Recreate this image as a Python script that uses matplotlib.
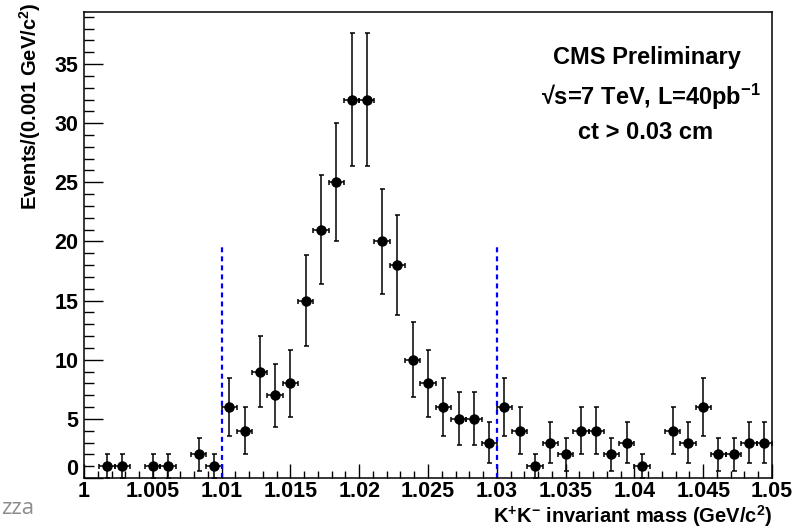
import numpy as np
import matplotlib
matplotlib.use("Agg")
import matplotlib.pyplot as plt
import matplotlib.transforms as mtransforms
from matplotlib.ticker import MultipleLocator

# K+K- invariant mass histogram, 45 bins between 1.00 and 1.05
mass_lo = 1.0
mass_hi = 1.05
n_bins = 45
counts = [0, 1, 1, 0, 1, 1, 0, 2, 1, 6,
          4, 9, 7, 8, 15, 21, 25, 32, 32, 20,
          18, 10, 8, 6, 5, 5, 3, 6, 4, 1,
          3, 2, 4, 4, 2, 3, 1, 0, 4, 3,
          6, 2, 2, 3, 3]

# signal window cuts
cut_lo = 1.01
cut_hi = 1.03
cut_top = 19.6

x_ticks = [1.0, 1.005, 1.01, 1.015, 1.02, 1.025, 1.03, 1.035, 1.04, 1.045, 1.05]
x_ticklabels = ['1', '1.005', '1.01', '1.015', '1.02', '1.025', '1.03',
                '1.035', '1.04', '1.045', '1.05']
y_ticks = [0, 5, 10, 15, 20, 25, 30, 35]

plt.rcParams['font.family'] = ['Liberation Sans', 'DejaVu Sans']
plt.rcParams['font.weight'] = 'bold'
plt.rcParams['axes.labelweight'] = 'bold'
plt.rcParams['mathtext.fontset'] = 'custom'
plt.rcParams['mathtext.rm'] = 'Liberation Sans:bold'
plt.rcParams['mathtext.bf'] = 'Liberation Sans:bold'
plt.rcParams['mathtext.default'] = 'bf'
plt.rcParams['lines.scale_dashes'] = False

edges = np.linspace(mass_lo, mass_hi, n_bins + 1)
centers = 0.5 * (edges[1:] + edges[:-1])
half_w = 0.5 * (edges[1] - edges[0])
counts = np.array(counts, dtype=float)
keep = counts > 0

fig = plt.figure(figsize=(8.08, 5.28), dpi=100)
ax = fig.add_axes([84/808, 50/528, 688/808, 466/528])

ax.errorbar(centers[keep], counts[keep], yerr=np.sqrt(counts[keep]),
            xerr=half_w, fmt='o', color='black', ms=6.5, elinewidth=1.1,
            capsize=1.8, capthick=1.1)

ax.vlines([cut_lo, cut_hi], 0, cut_top, colors='#0000ff', linewidth=1.6,
          linestyles=[(0, (3.6, 2.9))])

ax.set_xlim(mass_lo, mass_hi)
ax.set_ylim(0, 39.4)
ax.set_xticks(x_ticks)
ax.set_xticklabels(x_ticklabels)
ax.set_yticks(y_ticks)
ax.xaxis.set_minor_locator(MultipleLocator(0.001))
ax.yaxis.set_minor_locator(MultipleLocator(1))
ax.tick_params(which='both', direction='in', top=False, right=False,
               labelsize=15.5, width=1)
ax.tick_params(axis='y', which='major', length=14, pad=4)
ax.tick_params(axis='y', which='minor', length=7)
ax.tick_params(axis='x', which='major', length=10, pad=2)
ax.tick_params(axis='x', which='minor', length=5)
for sp in ax.spines.values():
    sp.set_linewidth(1.1)

# ROOT lifts the zero label a little
lbl0 = ax.get_yticklabels()[0]
lbl0.set_transform(lbl0.get_transform() +
                   mtransforms.ScaledTranslation(0, 11/100, fig.dpi_scale_trans))

ax.set_ylabel(r'Events/(0.001 GeV/c$^{2}$)', fontsize=14.5, loc='top')
ax.yaxis.set_label_coords(-0.06, 1.02)
ax.set_xlabel(r'K$^{+}$K$^{-}$ invariant mass (GeV/c$^{2}$)', fontsize=14.5,
              loc='right')
ax.xaxis.set_label_coords(1.0, -0.054)

ax.text(0.818, 0.903, 'CMS Preliminary', transform=ax.transAxes,
        ha='center', va='center', fontsize=17)
ax.text(0.824, 0.818, '\u221as=7 TeV, L=40pb$^{-1}$', transform=ax.transAxes,
        ha='center', va='center', fontsize=17)
ax.text(0.816, 0.742, 'ct > 0.03 cm', transform=ax.transAxes,
        ha='center', va='center', fontsize=17)

fig.text(1/808, 14/528, 'zza', family=['Open Sans', 'DejaVu Sans'],
         weight='normal', color='#8c8c8c', fontsize=16, ha='left',
         va='baseline')

fig.savefig('out.png', dpi=100)
